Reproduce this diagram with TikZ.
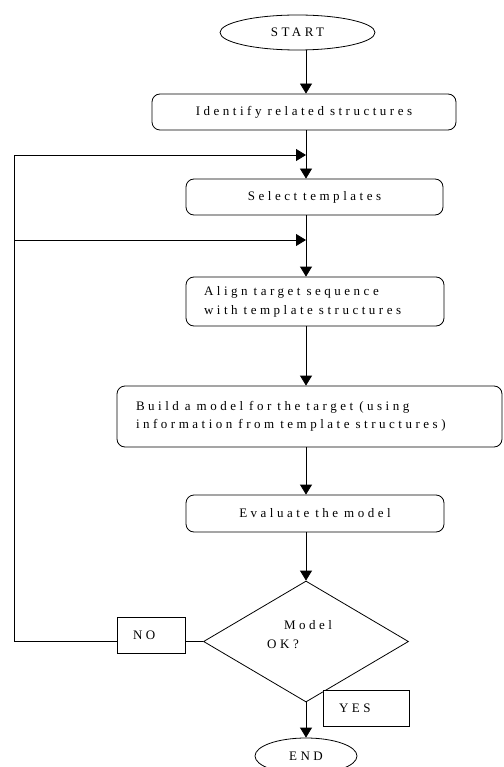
\documentclass[tikz,border=0pt]{standalone}
\usepackage{fontspec}
\setmainfont{Liberation Serif}[LetterSpace=27]
\usetikzlibrary{shapes.geometric,arrows.meta}
\begin{document}
\begin{tikzpicture}[x=1pt,y=-1pt,
  font=\fontsize{13}{19}\selectfont,
  every node/.append style={execute at begin node={\spaceskip=6pt\relax}},
  line width=0.8pt,
  proc/.style={draw, rounded corners=8pt, inner sep=0pt},
  lbox/.style={draw, fill=white, inner ysep=0pt, inner xsep=16pt, align=left},
  arr/.style={-{Triangle[length=10pt,width=12pt]}}]
\useasboundingbox (0,0) rectangle (503,767);
\clip (0,0) rectangle (503,767);
\coordinate (ax) at (306,0);
\node[draw, ellipse, inner sep=0pt, minimum width=155pt, minimum height=35pt] (start) at (297.5,32.5) {START};
\node[proc, minimum width=304pt, minimum height=36pt] (id) at (304,112) {Identify related structures};
\node[proc, minimum width=257pt, minimum height=36pt] (sel) at (314.5,197) {Select templates};
\node[proc, minimum width=258pt, minimum height=49pt, text width=222pt, align=left, inner xsep=18pt] (ali) at (315,301.5) {Align target sequence\\with template structures};
\node[proc, minimum width=385pt, minimum height=61pt, text width=347pt, align=left, inner xsep=19pt, font=\fontsize{13}{18}\selectfont] (bld) at (309.5,416.5) {Build a model for the target (using\\information from template structures)};
\node[proc, minimum width=258pt, minimum height=37pt] (eva) at (315,513.5) {Evaluate the model};
\node[draw, diamond, inner sep=0pt, minimum width=205pt, minimum height=121pt] (dec) at (306,641.5) {};
\node (m1) at (308,625) {Model};
\node (m2) at (283,644) {OK?};
\node[draw, ellipse, inner sep=0pt, minimum width=102pt, minimum height=36pt] (end) at (306,756) {END};
\coordinate (lb) at (14,641.5);
\coordinate (lt) at (14,155);
\coordinate (fb1) at (306,155);
\coordinate (fm) at (14,240);
\coordinate (fb2) at (306,240);
\draw[arr] (start.south -| ax) -- (id.north -| ax);
\draw[arr] (id.south -| ax) -- (sel.north -| ax);
\draw[arr] (sel.south -| ax) -- (ali.north -| ax);
\draw[arr] (ali.south -| ax) -- (bld.north -| ax);
\draw[arr] (bld.south -| ax) -- (eva.north -| ax);
\draw[arr] (eva.south -| ax) -- (dec.north);
\draw[arr] (dec.south) -- (end.north);
\node[lbox, minimum height=36pt, text width=36pt] (no) at (151,635) {NO};
\node[lbox, minimum height=36pt, text width=54pt] (yes) at (366,708) {YES};
\draw (dec.west) -- (dec.west -| no.east);
\draw (dec.west -| no.west) -- (lb) -- (lt);
\draw[arr] (lt) -- (fb1);
\draw[arr] (fm) -- (fb2);
\end{tikzpicture}
\end{document}
